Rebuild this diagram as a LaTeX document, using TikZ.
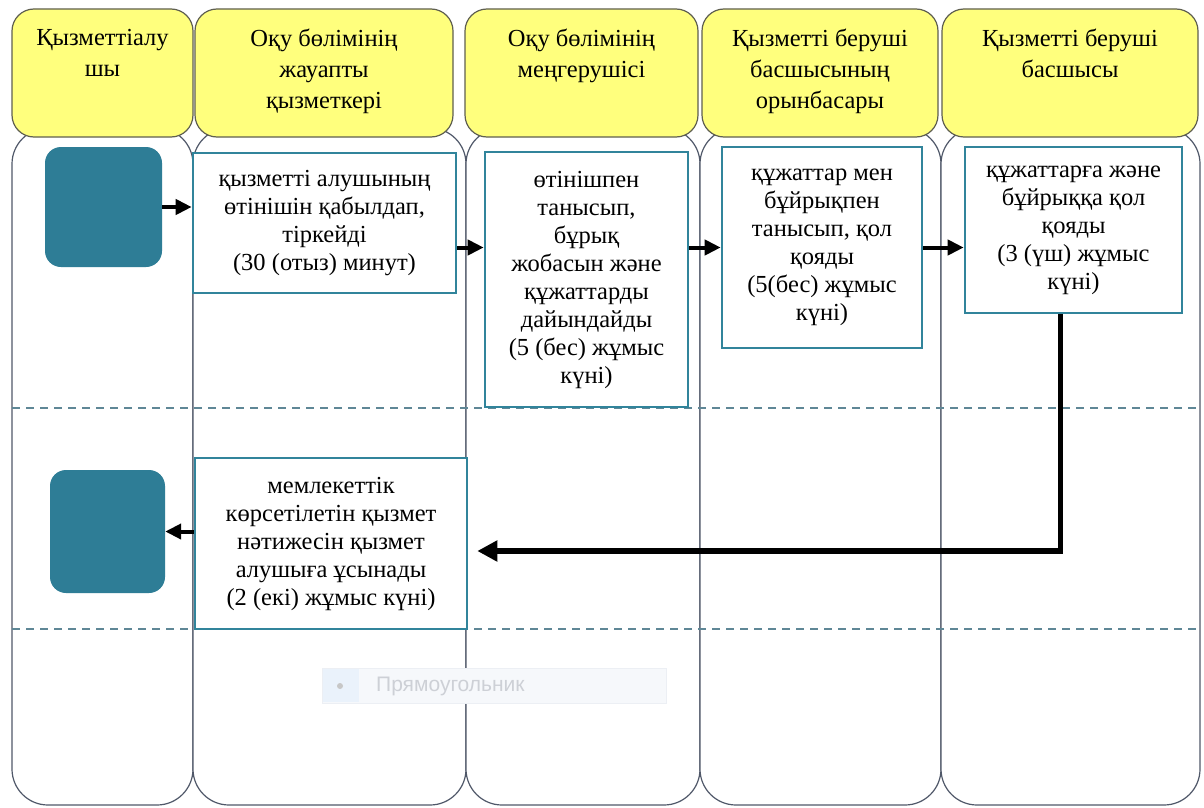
\documentclass[tikz,border=0pt]{standalone}
\usepackage{fontspec}
\setmainfont{Liberation Serif}
\newfontfamily\uisans{Liberation Sans}
\usetikzlibrary{arrows.meta}
\definecolor{hdrfill}{RGB}{255,255,125}
\definecolor{hdrline}{RGB}{95,95,80}
\definecolor{laneline}{RGB}{80,88,105}
\definecolor{tealc}{RGB}{49,132,155}
\definecolor{termc}{RGB}{46,125,150}
\definecolor{sepc}{RGB}{95,135,150}
\definecolor{tipfill}{RGB}{246,248,251}
\definecolor{tipline}{RGB}{236,239,244}
\definecolor{tipicon}{RGB}{234,242,251}
\definecolor{tiptext}{RGB}{205,208,214}
\tikzset{
  hdrbox/.style={draw=hdrline, fill=hdrfill, rounded corners=22pt, line width=1.2pt},
  lanebox/.style={draw=laneline, fill=white, rounded corners=36pt, line width=1.2pt},
  hdrtext/.style={align=center, anchor=north, inner sep=0pt, font=\fontsize{24.5}{31}\selectfont},
  procbox/.style={draw=tealc, fill=white, line width=2.6pt, align=center, inner sep=0pt, font=\fontsize{24.5}{28}\selectfont},
  termbox/.style={fill=termc, rounded corners=16pt, inner sep=0pt},
  flowarrow/.style={-{Triangle[length=16pt,width=15pt]}, line width=4pt},
  backarrow/.style={-{Triangle[length=20pt,width=20pt]}, line width=5.5pt},
  lanesep/.style={draw=sepc, dash pattern=on 8pt off 6pt, line width=1.2pt}
}
\begin{document}
\begin{tikzpicture}[x=1pt,y=-1pt]
\useasboundingbox[fill=white] (0,0) rectangle (1204,808);
% lanes
\draw[lanebox] (12,128) rectangle (193,805);
\draw[lanebox] (193,128) rectangle (466,805);
\draw[lanebox] (466,128) rectangle (700,805);
\draw[lanebox] (700,128) rectangle (941,805);
\draw[lanebox] (941,128) rectangle (1200,805);
% headers
\draw[hdrbox] (12,9) rectangle (193,137);
\draw[hdrbox] (195,9) rectangle (453,137);
\draw[hdrbox] (465,9) rectangle (698,137);
\draw[hdrbox] (702,9) rectangle (938,137);
\draw[hdrbox] (942,9) rectangle (1198,137);
\node[hdrtext] (h1) at (102.5,29) {Қызметтіалу\\шы};
\node[hdrtext] (h2) at (324,29) {Оқу бөлімінің\\жауапты\\қызметкері};
\node[hdrtext] (h3) at (581.5,29) {Оқу бөлімінің\\меңгерушісі};
\node[hdrtext] (h4) at (820,29) {Қызметті беруші\\басшысының\\орынбасары};
\node[hdrtext] (h5) at (1070,29) {Қызметті беруші\\басшысы};
% separators
\draw[lanesep] (12,408) -- (1200,408);
\draw[lanesep] (12,629) -- (1200,629);
% faint tooltip
\draw[fill=tipfill, draw=tipline] (322,668) rectangle (666,703);
\fill[tipicon] (323,669) rectangle (359,702);
\fill[black!22] (340,686) circle (3pt);
\node[anchor=west, inner sep=0pt, text=tiptext, font=\uisans\fontsize{21}{24}\selectfont] (tip) at (376,686) {Прямоугольник};
% terminals
\node[termbox, minimum width=117pt, minimum height=120pt] (s) at (103.5,207) {};
\node[termbox, minimum width=115pt, minimum height=123pt] (e) at (107.5,531.5) {};
% process boxes
\node[procbox, minimum width=263pt, minimum height=140pt] (b1) at (324.5,223) {қызметті алушының\\өтінішін қабылдап,\\тіркейді\\(30 (отыз) минут)};
\node[procbox, minimum width=203pt, minimum height=255pt] (b2) at (586.5,279.5) {өтінішпен\\танысып,\\бұрық\\жобасын және\\құжаттарды\\дайындайды\\(5 (бес) жұмыс\\күні)};
\node[procbox, minimum width=200pt, minimum height=201pt] (b3) at (822,247.5) {құжаттар мен\\бұйрықпен\\танысып, қол\\қояды\\(5(бес) жұмыс\\күні)};
\node[procbox, minimum width=217pt, minimum height=166pt] (b4) at (1073.5,230) {құжаттарға және\\бұйрыққа қол\\қояды\\(3 (үш) жұмыс\\күні)};
\node[procbox, minimum width=272pt, minimum height=171pt] (b5) at (331,543.5) {мемлекеттік\\көрсетілетін қызмет\\нәтижесін қызмет\\алушыға ұсынады\\(2 (екі) жұмыс күні)};
% connectors
\draw[flowarrow] (s.east) -- (s.east -| b1.west);
\draw[flowarrow] (b1.east |- b3.west) -- (b2.west |- b3.west);
\draw[flowarrow] (b2.east |- b3.west) -- (b3.west);
\draw[flowarrow] (b3.east) -- (b4.west |- b3.west);
\draw[backarrow, shorten >=9pt] ([xshift=-13pt]b4.south) |- ([yshift=-7.5pt]b5.east);
\draw[flowarrow] (b5.west |- e.east) -- (e.east);
\end{tikzpicture}
\end{document}
